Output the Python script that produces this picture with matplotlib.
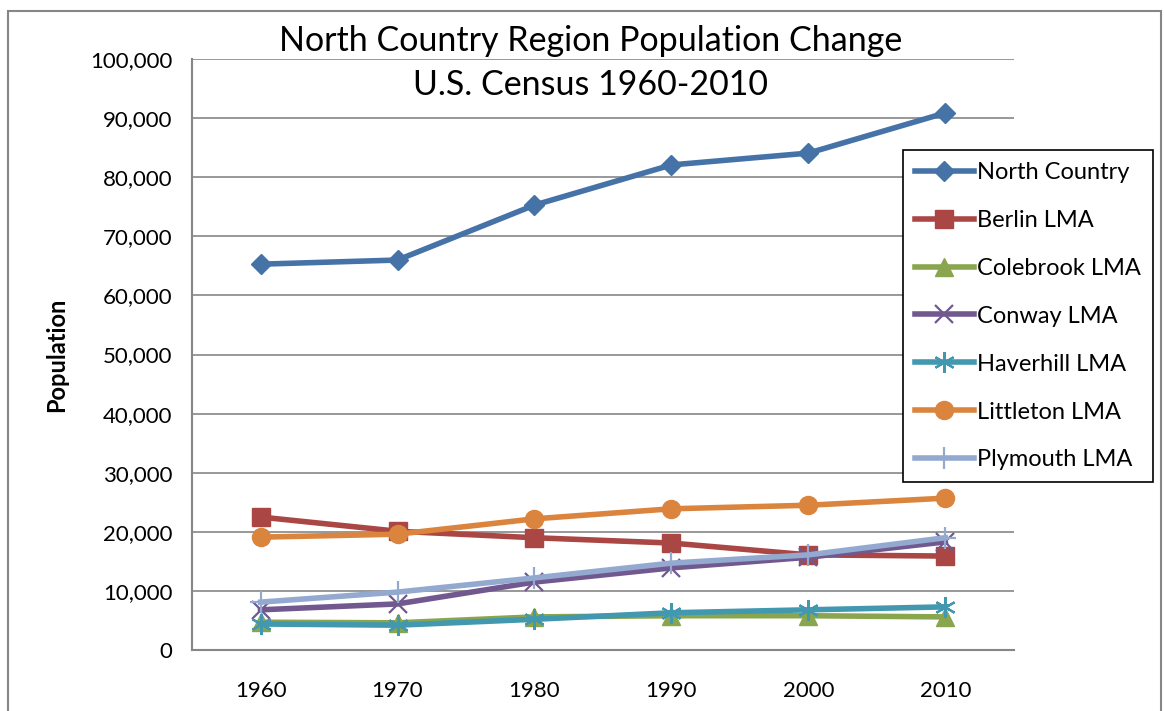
import matplotlib.pyplot as plt
from matplotlib.patches import Rectangle
from matplotlib.ticker import FuncFormatter

plt.rcParams['font.family'] = ['Lato', 'DejaVu Sans']

years = [1960, 1970, 1980, 1990, 2000, 2010]
north_country = [65300, 66000, 75300, 82100, 84100, 90900]
berlin = [22500, 20100, 19000, 18100, 16100, 15900]
colebrook = [4700, 4600, 5600, 5800, 5800, 5600]
conway = [6800, 7800, 11500, 13900, 15700, 18300]
haverhill = [4400, 4200, 5200, 6300, 6800, 7300]
littleton = [19100, 19600, 22200, 23900, 24500, 25700]
plymouth = [8100, 9800, 12200, 14700, 16100, 19000]

# name, values, colour, marker, marker size
series = [
    ("North Country", north_country, "#4572a7", "D", 10),
    ("Berlin LMA", berlin, "#aa4643", "s", 13),
    ("Colebrook LMA", colebrook, "#89a54e", "^", 13),
    ("Conway LMA", conway, "#71588f", "x", 13),
    ("Haverhill LMA", haverhill, "#4198af", (6, 2, 0), 15),
    ("Littleton LMA", littleton, "#db843d", "o", 13),
    ("Plymouth LMA", plymouth, "#93a9cf", "+", 16),
]

fig = plt.figure(figsize=(11.64, 7.11), dpi=100)
ax = fig.add_axes([0.165, 0.0858, 0.706, 0.831])

x = list(range(len(years)))
for name, vals, c, m, ms in series:
    if m in ("x", "+") or isinstance(m, tuple):
        ax.plot(x, vals, color=c, lw=4, marker=m, ms=ms, mew=1.6, label=name)
    else:
        ax.plot(x, vals, color=c, lw=4, marker=m, ms=ms, mec=c, label=name)

ax.set_xlim(-0.5, 5.5)
ax.set_ylim(0, 100000)
ax.set_yticks(range(0, 100001, 10000))
ax.yaxis.set_major_formatter(FuncFormatter(lambda v, p: f"{int(v):,}"))
ax.set_xticks(x)
ax.set_xticklabels([str(y) for y in years])
ax.tick_params(axis='both', labelsize=16, length=0)
ax.tick_params(axis='x', pad=22)
ax.tick_params(axis='y', pad=14)
ax.grid(axis='y', color='#868686', lw=1.2)
ax.set_axisbelow(True)
for s in ['top', 'right']:
    ax.spines[s].set_visible(False)
for s in ['left', 'bottom']:
    ax.spines[s].set_color('#868686')
    ax.spines[s].set_linewidth(1.5)

ax.set_ylabel("Population", fontsize=17, fontweight='bold', labelpad=16)

fig.text(0.507, 0.943, "North Country Region Population Change", ha='center', va='center', fontsize=24.5)
fig.text(0.507, 0.881, "U.S. Census 1960-2010", ha='center', va='center', fontsize=24.5)

leg = ax.legend(loc='upper left', bbox_to_anchor=(0.865, 0.846), fontsize=17,
                frameon=True, fancybox=False, edgecolor='black', framealpha=1,
                labelspacing=1.14, handlelength=2.5, handletextpad=0.15, borderpad=0.5,
                borderaxespad=0)
leg.get_frame().set_linewidth(1.2)

fig.patches.append(Rectangle((0.007, -0.01), 0.99, 0.995, transform=fig.transFigure,
                             fill=False, edgecolor='#868686', lw=1.5))

fig.savefig("out.png", dpi=100)
